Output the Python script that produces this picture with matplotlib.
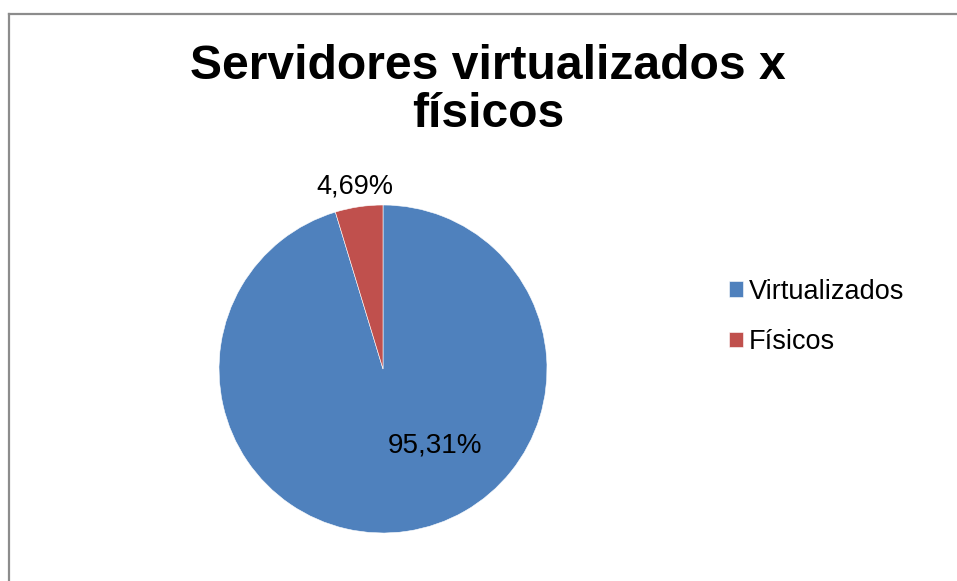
import matplotlib.pyplot as plt
from matplotlib.lines import Line2D

labels = ['Virtualizados', 'Físicos']
values = [95.31, 4.69]
pct_text = ['95,31%', '4,69%']
colors = ['#4F81BD', '#C0504D']

plt.rcParams['font.family'] = ['Liberation Sans', 'DejaVu Sans']

W, H = 957, 581
fig = plt.figure(figsize=(W / 100, H / 100), dpi=100)

# chart area border (only top and left visible)
fig.add_artist(Line2D([8.5 / W, 8.5 / W], [0, 1 - 13.5 / H], color='#8c8c8c', lw=1.6, transform=fig.transFigure))
fig.add_artist(Line2D([8.5 / W, 1], [1 - 13.5 / H, 1 - 13.5 / H], color='#8c8c8c', lw=1.6, transform=fig.transFigure))

cx, cy, r = 383, 369, 164
ax = fig.add_axes([(cx - r) / W, (H - cy - r) / H, 2 * r / W, 2 * r / H])
wedges, _ = ax.pie(values, colors=colors, startangle=90, counterclock=False,
                   radius=1, wedgeprops=dict(edgecolor='white', linewidth=0.4))
ax.set_xlim(-1, 1)
ax.set_ylim(-1, 1)
ax.set_aspect('equal')
ax.axis('off')

# data labels
ax.text((435 - cx) / r, (cy - 453) / r, pct_text[0], ha='center', va='baseline', fontsize=20)
ax.text((355 - cx) / r, (cy - 193) / r, pct_text[1], ha='center', va='baseline', fontsize=19.5)

# title
fig.text(488 / W, 1 - 79 / H, 'Servidores virtualizados x', ha='center', va='baseline',
         fontsize=34.6, fontweight='bold')
fig.text(488 / W, 1 - 127 / H, 'físicos', ha='center', va='baseline',
         fontsize=34.6, fontweight='bold')

leg = fig.legend(wedges, labels, loc='center left', bbox_to_anchor=(729 / W, 1 - 317 / H),
                 frameon=False, fontsize=19.5, handlelength=0.52, handleheight=0.52,
                 handletextpad=0.22, labelspacing=0.9, borderpad=0, borderaxespad=0)

fig.savefig('out.png', dpi=100, facecolor='white')
